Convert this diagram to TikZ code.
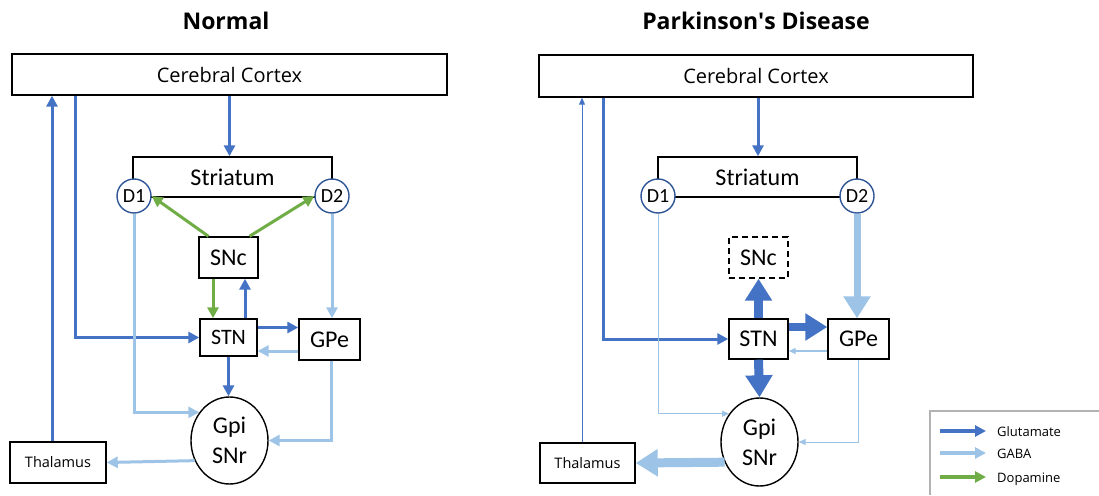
\documentclass[tikz,border=0pt]{standalone}
\usepackage{fontspec}
\setmainfont{Open Sans}
\newfontfamily\carlito{Carlito}
\usepackage{tikz}
\usetikzlibrary{arrows.meta,shapes.geometric}

\definecolor{glublau}{HTML}{4472C4}
\definecolor{gabablau}{HTML}{9DC3E6}
\definecolor{dopagruen}{HTML}{70AD47}
\definecolor{rezblau}{HTML}{2F5597}

\tikzset{
    titel/.style={font=\bfseries\fontsize{23}{23}\selectfont},
    kasten/.style={draw=black, line width=1.4pt, fill=white, inner sep=0pt},
    gross/.style={font=\carlito\fontsize{24}{24}\selectfont},
    rezeptor/.style={circle, draw=rezblau, line width=1.4pt, fill=white, minimum size=34pt, inner sep=0pt, font=\carlito\fontsize{20}{20}\selectfont},
    glu/.style={draw=glublau, line width=3pt, -{Triangle[length=11pt,width=11pt]}},
    gaba/.style={glu, draw=gabablau},
    dopa/.style={glu, draw=dopagruen},
    duenn/.style={line width=1pt, -{Triangle[length=7pt,width=6pt]}},
    dick/.style={line width=9pt, -{Triangle[length=22pt,width=26pt]}},
    legtext/.style={anchor=base west, inner sep=0pt, font=\fontsize{13}{13}\selectfont}
}

\begin{document}
\begin{tikzpicture}[x=1pt, y=-1pt]
    \useasboundingbox (0,0) rectangle (1099,495);

    % Ueberschriften.
    \node[titel] (titelL) at (226,21) {Normal};
    \node[titel] (titelR) at (756,21) {Parkinson\textquotesingle s Disease};

    % Kaesten links.
    \node[kasten, minimum width=435pt, minimum height=41pt, font=\fontsize{20}{20}\selectfont] (cortexL) at (229.5,74.5) {Cerebral Cortex};
    \node[kasten, gross, minimum width=199pt, minimum height=40pt] (striatumL) at (232.5,177) {Striatum};
    \node[rezeptor] (d1L) at (134,196) {D1};
    \node[rezeptor] (d2L) at (332,196) {D2};
    \node[kasten, gross, minimum width=59pt, minimum height=41pt] (sncL) at (228.5,257.5) {SNc};
    \node[kasten, gross, minimum width=57pt, minimum height=37pt, font=\carlito\fontsize{22}{22}\selectfont] (stnL) at (228.5,337.5) {STN};
    \node[kasten, gross, minimum width=61pt, minimum height=41pt] (gpeL) at (329.5,339.5) {GPe};
    \node[kasten, gross, ellipse, minimum width=77pt, minimum height=87pt, align=center, font=\carlito\fontsize{24}{30}\selectfont] (gpiL) at (229.5,440.5) {Gpi\\SNr};
    \node[kasten, minimum width=96pt, minimum height=41pt, font=\fontsize{14.5}{14.5}\selectfont] (thalL) at (58,462.5) {Thalamus};

    % Verbindungen links.
    \coordinate (ctxL) at (75,0);
    \draw[glu] (cortexL.south) -- (cortexL.south |- striatumL.north);
    \draw[glu] ([xshift=-6pt]thalL.north) -- ([xshift=-6pt]thalL.north |- cortexL.south);
    \draw[glu] (cortexL.south -| ctxL) |- (stnL.west);
    \draw[dopa] ([xshift=-20pt]sncL.north) -- (d1L.east);
    \draw[dopa] ([xshift=21pt]sncL.north) -- (d2L.west);
    \draw[dopa] ([xshift=-15.5pt]sncL.south) -- ([xshift=-15.5pt]sncL.south |- stnL.north);
    \draw[glu] ([xshift=16.5pt]stnL.north) -- ([xshift=16.5pt]stnL.north |- sncL.south);
    \draw[glu] ([yshift=10pt]stnL.east) -- ([yshift=10pt]stnL.east -| gpeL.west);
    \draw[gaba] ([yshift=-11.5pt]gpeL.west) -- ([yshift=-13.5pt]stnL.east);
    \draw[gaba] (d2L.south) -- (d2L.south |- gpeL.north);
    \draw[gaba] (d1L.south) |- (gpiL.137);
    \draw[glu] (stnL.south) -- (stnL.south |- gpiL.north);
    \draw[gaba] ([xshift=1.5pt]gpeL.south) |- (gpiL.east);
    \draw[gaba] (gpiL.210) -- (thalL.east);

    % Kaesten rechts.
    \node[kasten, minimum width=434pt, minimum height=42pt, font=\fontsize{20}{20}\selectfont] (cortexR) at (756,76) {Cerebral Cortex};
    \node[kasten, gross, minimum width=199pt, minimum height=40pt] (striatumR) at (757.5,177) {Striatum};
    \node[rezeptor] (d1R) at (658,196) {D1};
    \node[rezeptor] (d2R) at (857,196) {D2};
    \node[kasten, gross, dash pattern=on 6pt off 4pt, minimum width=59pt, minimum height=41pt] (sncR) at (758.5,257.5) {SNc};
    \node[kasten, gross, minimum width=59pt, minimum height=40pt] (stnR) at (758.5,339) {STN};
    \node[kasten, gross, minimum width=61pt, minimum height=40pt] (gpeR) at (858.5,339) {GPe};
    \node[kasten, gross, ellipse, minimum width=77pt, minimum height=88pt, align=center, font=\carlito\fontsize{24}{30}\selectfont] (gpiR) at (759.5,442) {Gpi\\SNr};
    \node[kasten, minimum width=95pt, minimum height=40pt, font=\fontsize{14.5}{14.5}\selectfont] (thalR) at (587.5,463) {Thalamus};

    % Verbindungen rechts.
    \coordinate (ctxR) at (603,0);
    \draw[glu] ([xshift=2pt]cortexR.south) -- ([xshift=2pt]cortexR.south |- striatumR.north);
    \draw[glu, duenn] ([xshift=-5.5pt]thalR.north) -- ([xshift=-5.5pt]thalR.north |- cortexR.south);
    \draw[glu] (cortexR.south -| ctxR) |- (stnR.west);
    \draw[glu, dick] (stnR.north) -- (sncR.south);
    \draw[glu, dick, line width=8pt] ([yshift=12pt]stnR.east) -- ([yshift=12pt]gpeR.west);
    \draw[gaba, duenn, line width=1.3pt] ([yshift=-12pt]gpeR.west) -- ([yshift=-12pt]stnR.east);
    \draw[gaba, dick, line width=7pt] (d2R.south) -- (d2R.south |- gpeR.north);
    \draw[gaba, duenn] (d1R.south) |- (gpiR.137);
    \draw[glu, dick] (stnR.south) -- (gpiR.north);
    \draw[gaba, duenn] (gpeR.south) |- (gpiR.east);
    \draw[gaba, dick] (gpiR.210) -- (thalR.east);

    % Legende.
    \draw[gray!60, line width=1.2pt] (1099,411) -- (930,411) -- (930,495);
    \foreach \stil/\nm/\lab/\yy in {glu/lglu/Glutamate/436, gaba/lgaba/GABA/458, dopa/ldopa/Dopamine/482}
    {
        \node[legtext] (\nm) at (997,\yy) {\lab};
        \draw[\stil, line width=4pt] ([xshift=-57pt, yshift=5pt]\nm.base west) -- ([xshift=-11pt, yshift=5pt]\nm.base west);
    }
\end{tikzpicture}
\end{document}
